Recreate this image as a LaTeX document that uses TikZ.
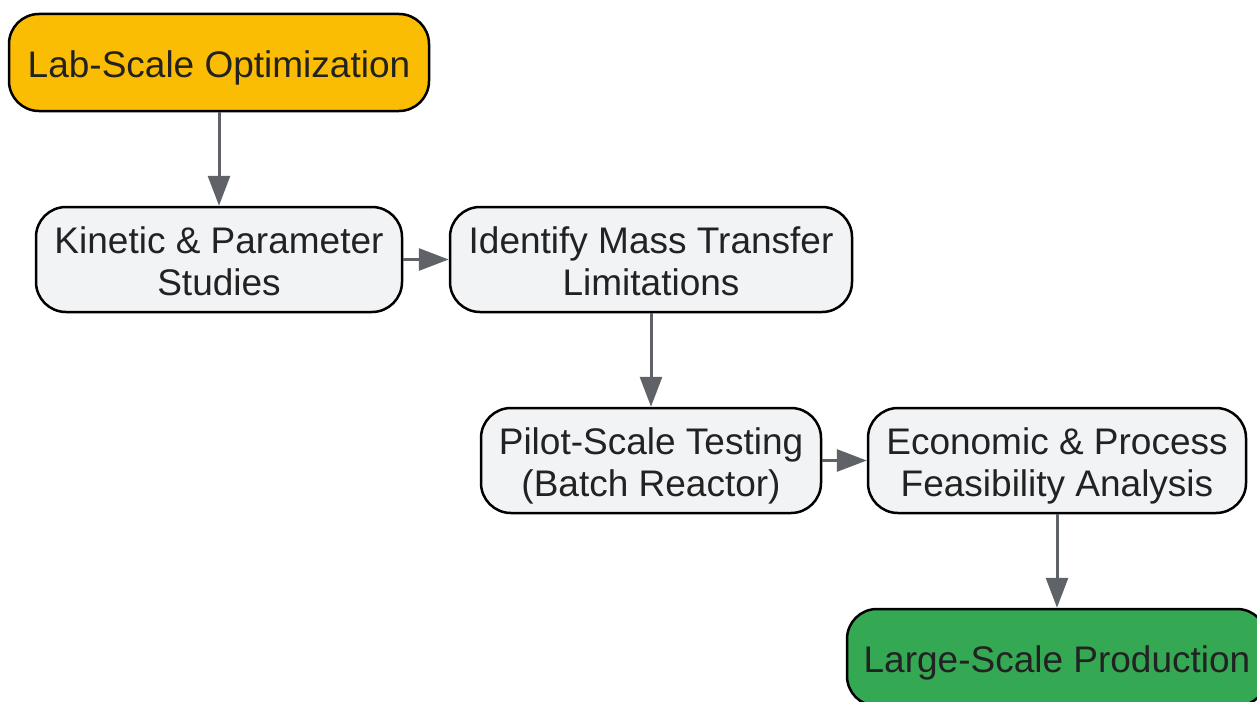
\documentclass[tikz,border=0pt]{standalone}
\usepackage{fontspec}
\setmainfont{Liberation Sans}
\usetikzlibrary{arrows.meta}
\definecolor{labor}{HTML}{FBBC04}
\definecolor{boxgray}{HTML}{F2F3F5}
\definecolor{prodgreen}{HTML}{34A853}
\definecolor{arrowgray}{HTML}{5F6368}
\definecolor{txt}{HTML}{222222}
\begin{document}
\begin{tikzpicture}[x=1pt,y=-1pt,
  stepbox/.style={draw=black, line width=2.5pt, rounded corners=30pt, align=center,
    text=txt, font=\fontsize{37}{42.5}\selectfont, inner sep=0pt, text depth=0pt},
  oneline/.style={text height=29.5pt, minimum height=97pt},
  twoline/.style={text height=72pt, minimum height=105pt, fill=boxgray},
  flow/.style={draw=arrowgray, line width=3pt, -{Triangle[length=30pt,width=22pt]}}]
\useasboundingbox (0,0) rectangle (1257,701);
\node[stepbox, oneline, fill=labor, minimum width=420pt] (n1) at (219,62.5) {Lab-Scale Optimization};
\node[stepbox, twoline, minimum width=366pt] (n2) at (219,259.5) {Kinetic \& Parameter\\Studies};
\node[stepbox, twoline, minimum width=402pt] (n3) at (651,259.5) {Identify Mass Transfer\\Limitations};
\node[stepbox, twoline, minimum width=340pt] (n4) at (651,460.5) {Pilot-Scale Testing\\(Batch Reactor)};
\node[stepbox, twoline, minimum width=378pt] (n5) at (1057,460.5) {Economic \& Process\\Feasibility Analysis};
\node[stepbox, oneline, fill=prodgreen, minimum width=420pt] (n6) at (1057,657.5) {Large-Scale Production};
\draw[flow] (n1) -- (n2);
\draw[flow] (n2) -- (n3);
\draw[flow] (n3) -- (n4);
\draw[flow] (n4) -- (n5);
\draw[flow] (n5) -- (n6);
\end{tikzpicture}
\end{document}
